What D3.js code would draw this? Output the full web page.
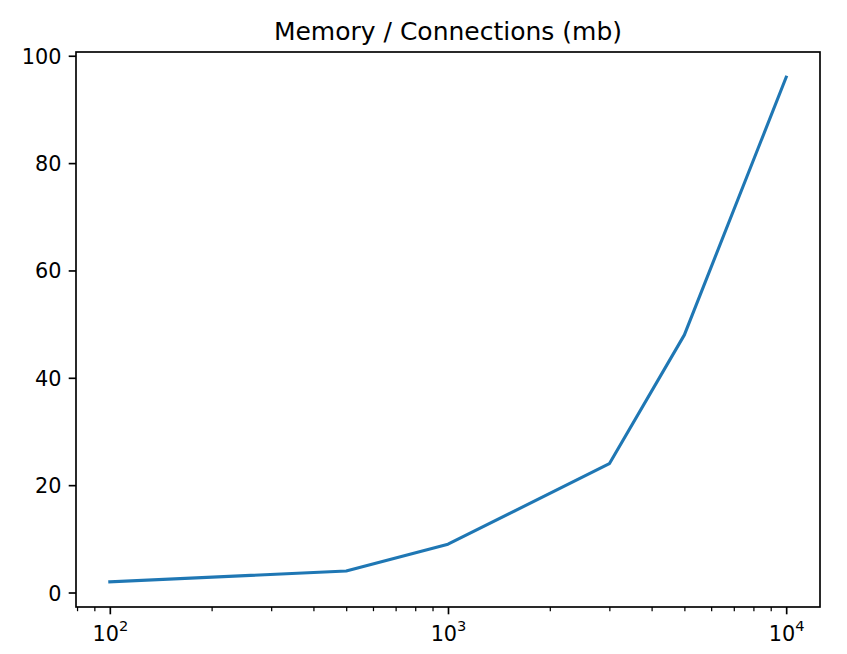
<!DOCTYPE html>
<html><head><meta charset="utf-8">
<script src="https://cdn.jsdelivr.net/npm/d3@7"></script>
<style>body{margin:0;background:#fff}svg{display:block}text{font-family:"DejaVu Sans",sans-serif;fill:#000}</style>
</head><body><svg id="c" width="847" height="654"></svg>
<script>
const title = "Memory / Connections (mb)";
const connections = [100, 500, 1000, 3000, 5000, 10000];
const memory = [2, 4, 9, 24, 48, 96];
const yTicks = [0, 20, 40, 60, 80, 100];
const xMajorTicks = [100, 1000, 10000];
const xMinorTicks = [80, 90, 200, 300, 400, 500, 600, 700, 800, 900, 2000, 3000, 4000, 5000, 6000, 7000, 8000, 9000];

const W = 847, H = 654;
const m = {l: 76, r: 820, t: 52, b: 607};
const svg = d3.select("#c");

const x = d3.scaleLog().domain([Math.pow(10, 1.9), Math.pow(10, 4.1)]).range([m.l, m.r]);
const y = d3.scaleLinear().domain([-2.7, 100.7]).range([m.b, m.t]);

// line
const line = d3.line().x((d, i) => x(connections[i])).y(d => y(d));
svg.append("path").datum(memory).attr("d", line)
  .attr("fill", "none").attr("stroke", "#1f77b4").attr("stroke-width", 3.1)
  .attr("stroke-linecap", "square").attr("stroke-linejoin", "round");

// y axis
const yAxis = svg.append("g").attr("transform", `translate(${m.l},0)`)
  .call(d3.axisLeft(y).tickValues(yTicks).tickSize(7.3).tickPadding(7.3).tickFormat(d3.format("d")));
yAxis.select(".domain").remove();
yAxis.selectAll(".tick line").attr("stroke", "#000").attr("stroke-width", 1.67);
yAxis.selectAll("text").attr("font-size", "20.8px").attr("font-family", "DejaVu Sans").attr("dy", "0.36em");

// x axis minor
const xMinor = svg.append("g").attr("transform", `translate(0,${m.b})`)
  .call(d3.axisBottom(x).tickValues(xMinorTicks).tickSize(4.2).tickFormat(""));
xMinor.select(".domain").remove();
xMinor.selectAll(".tick line").attr("stroke", "#000").attr("stroke-width", 1.25);

// x axis major
const xMajor = svg.append("g").attr("transform", `translate(0,${m.b})`)
  .call(d3.axisBottom(x).tickValues(xMajorTicks).tickSize(7.3).tickFormat(""));
xMajor.select(".domain").remove();
xMajor.selectAll(".tick line").attr("stroke", "#000").attr("stroke-width", 1.67);
xMajor.selectAll(".tick").each(function(d) {
  const t = d3.select(this).append("text").attr("x", 0).attr("y", 33.5).attr("text-anchor", "middle")
    .attr("font-size", "20.8px");
  t.append("tspan").text("10");
  t.append("tspan").attr("font-size", "14.6px").attr("dy", "-9.2").text(Math.round(Math.log10(d)));
});

// frame
svg.append("rect").attr("x", m.l).attr("y", m.t).attr("width", m.r - m.l).attr("height", m.b - m.t)
  .attr("fill", "none").attr("stroke", "#000").attr("stroke-width", 1.67);

// title
svg.append("text").attr("x", (m.l + m.r) / 2).attr("y", 39.5).attr("text-anchor", "middle")
  .attr("font-size", "25px").text(title);
</script></body></html>
